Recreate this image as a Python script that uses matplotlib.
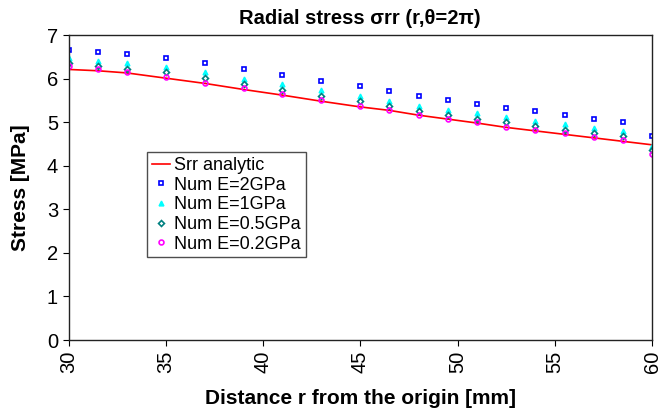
import matplotlib
matplotlib.use('Agg')
import matplotlib.pyplot as plt

plt.rcParams['font.family'] = ['Liberation Sans', 'DejaVu Sans']

# r positions [mm]
r = [30, 31.5, 33, 35, 37, 39, 41, 43, 45, 46.5, 48, 49.5,
     51, 52.5, 54, 55.5, 57, 58.5, 60]

# analytic solution
srr_analytic = [6.21, 6.18, 6.13, 6.01, 5.89, 5.75, 5.62, 5.48, 5.35, 5.27,
                5.16, 5.07, 4.98, 4.88, 4.80, 4.72, 4.64, 4.56, 4.48]

# numerical results
num_2gpa = [6.66, 6.61, 6.56, 6.47, 6.36, 6.22, 6.08, 5.94, 5.82, 5.71,
            5.61, 5.51, 5.42, 5.33, 5.25, 5.16, 5.08, 5.00, 4.68]
num_1gpa = [6.47, 6.41, 6.36, 6.26, 6.14, 6.00, 5.87, 5.73, 5.60, 5.49,
            5.38, 5.29, 5.20, 5.11, 5.02, 4.95, 4.87, 4.79, 4.45]
num_05gpa = [6.36, 6.30, 6.23, 6.14, 6.01, 5.87, 5.74, 5.60, 5.48, 5.36,
             5.26, 5.17, 5.08, 5.00, 4.91, 4.83, 4.75, 4.68, 4.35]
num_02gpa = [6.28, 6.21, 6.14, 6.04, 5.91, 5.78, 5.64, 5.51, 5.38, 5.27,
             5.17, 5.08, 5.00, 4.90, 4.83, 4.74, 4.67, 4.60, 4.26]

fig = plt.figure(figsize=(6.62, 4.11), dpi=100)
ax = fig.add_axes([0.1035, 0.1727, 0.8815, 0.7421])

ax.plot(r, srr_analytic, color='#FF0000', lw=1.2, label='Srr analytic')
ax.plot(r, num_2gpa, ls='none', marker='s', ms=3.5, mfc='none', mec='#0000FF',
        mew=1.2, label='Num E=2GPa')
ax.plot(r, num_1gpa, ls='none', marker='^', ms=3.5, color='#00FFFF',
        label='Num E=1GPa')
ax.plot(r, num_05gpa, ls='none', marker='D', ms=3, mfc='none', mec='#008080',
        mew=1.2, label='Num E=0.5GPa')
ax.plot(r, num_02gpa, ls='none', marker='o', ms=3.5, mfc='none', mec='#FF00FF',
        mew=1.2, label='Num E=0.2GPa')

ax.set_xlim(30, 60)
ax.set_ylim(0, 7)
ax.set_xticks(range(30, 61, 5))
ax.set_yticks(range(0, 8))
ax.tick_params(axis='x', labelrotation=90, labelsize=14.5, direction='out', length=4)
ax.tick_params(axis='y', labelsize=14.5, direction='out', length=4)
for s in ax.spines.values():
    s.set_color('#222222')
    s.set_linewidth(1.0)

ax.set_title('Radial stress σrr (r,θ=2π)', fontsize=14.5, fontweight='bold', pad=8)
ax.set_xlabel('Distance r from the origin [mm]', fontsize=15, fontweight='bold',
              labelpad=12)
ax.set_ylabel('Stress [MPa]', fontsize=15, fontweight='bold', labelpad=12)

leg = ax.legend(loc='upper left', bbox_to_anchor=(0.135, 0.615), borderaxespad=0,
                fontsize=13, frameon=True, fancybox=False, handlelength=1.0,
                handletextpad=0.25, labelspacing=0.15, borderpad=0.25)
leg.get_frame().set_edgecolor('#222222')
leg.get_frame().set_linewidth(1.0)

fig.savefig('out.png', dpi=100)
